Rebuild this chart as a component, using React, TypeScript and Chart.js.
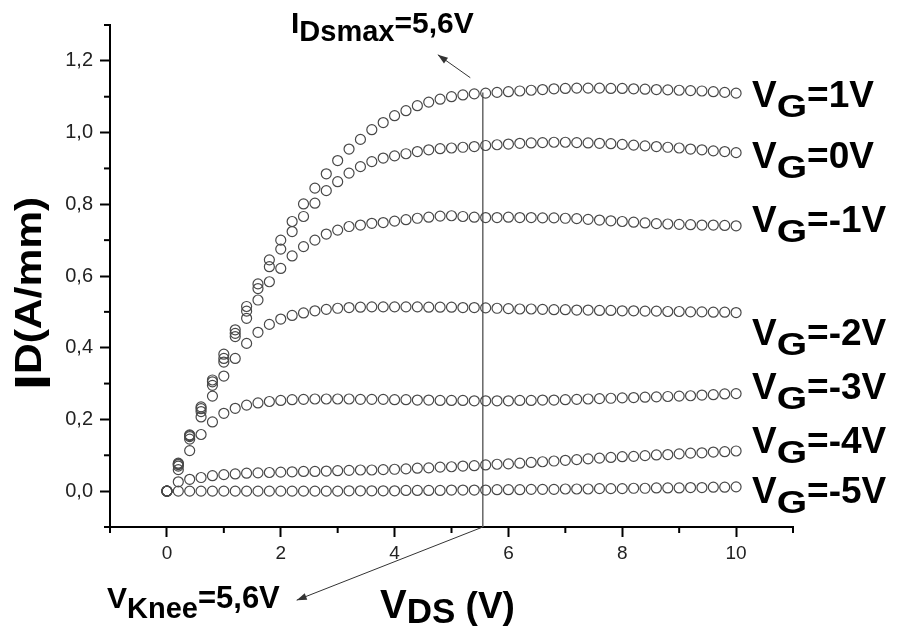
import React, { useEffect, useRef } from "react";
import { Chart, registerables } from "chart.js";

Chart.register(...registerables);

const FONT = "'Liberation Sans', Arial, Helvetica, sans-serif";

// Drain-source voltage (V)
const VDS = [0, 0.2, 0.4, 0.6, 0.8, 1, 1.2, 1.4, 1.6, 1.8, 2, 2.2, 2.4, 2.6, 2.8, 3, 3.2, 3.4, 3.6, 3.8, 4, 4.2, 4.4, 4.6, 4.8, 5, 5.2, 5.4, 5.6, 5.8, 6, 6.2, 6.4, 6.6, 6.8, 7, 7.2, 7.4, 7.6, 7.8, 8, 8.2, 8.4, 8.6, 8.8, 9, 9.2, 9.4, 9.6, 9.8, 10];

// Drain current (A/mm) for each gate voltage
const ID_VG_P1 = [0, 0.078, 0.157, 0.235, 0.31, 0.382, 0.45, 0.515, 0.578, 0.645, 0.70, 0.752, 0.801, 0.845, 0.885, 0.922, 0.954, 0.981, 1.008, 1.028, 1.047, 1.061, 1.075, 1.085, 1.093, 1.100, 1.105, 1.108, 1.110, 1.112, 1.114, 1.116, 1.118, 1.120, 1.122, 1.123, 1.124, 1.124, 1.124, 1.123, 1.123, 1.122, 1.121, 1.120, 1.119, 1.118, 1.117, 1.116, 1.114, 1.112, 1.110];
const ID_VG_0 = [0, 0.076, 0.155, 0.23, 0.305, 0.37, 0.44, 0.502, 0.565, 0.626, 0.675, 0.724, 0.766, 0.803, 0.838, 0.863, 0.887, 0.905, 0.919, 0.929, 0.935, 0.941, 0.947, 0.952, 0.955, 0.957, 0.959, 0.961, 0.964, 0.966, 0.968, 0.970, 0.971, 0.972, 0.973, 0.973, 0.972, 0.971, 0.970, 0.969, 0.967, 0.965, 0.963, 0.961, 0.959, 0.957, 0.954, 0.952, 0.949, 0.947, 0.944];
const ID_VG_M1 = [0, 0.074, 0.152, 0.222, 0.295, 0.36, 0.431, 0.482, 0.533, 0.584, 0.621, 0.656, 0.682, 0.70, 0.717, 0.728, 0.738, 0.742, 0.747, 0.749, 0.753, 0.757, 0.761, 0.764, 0.767, 0.768, 0.766, 0.764, 0.763, 0.763, 0.764, 0.763, 0.763, 0.762, 0.762, 0.761, 0.760, 0.758, 0.756, 0.754, 0.752, 0.750, 0.748, 0.746, 0.745, 0.744, 0.743, 0.742, 0.742, 0.741, 0.740];
const ID_VG_M2 = [0, 0.07, 0.145, 0.207, 0.265, 0.321, 0.37, 0.412, 0.443, 0.465, 0.48, 0.49, 0.497, 0.503, 0.507, 0.51, 0.512, 0.513, 0.514, 0.514, 0.514, 0.514, 0.514, 0.513, 0.513, 0.513, 0.512, 0.512, 0.511, 0.510, 0.509, 0.508, 0.508, 0.507, 0.506, 0.506, 0.505, 0.505, 0.504, 0.504, 0.503, 0.503, 0.502, 0.502, 0.501, 0.501, 0.500, 0.500, 0.499, 0.499, 0.498];
const ID_VG_M3 = [0, 0.06, 0.113, 0.158, 0.193, 0.217, 0.231, 0.24, 0.246, 0.25, 0.253, 0.255, 0.256, 0.257, 0.257, 0.257, 0.257, 0.256, 0.256, 0.256, 0.255, 0.255, 0.254, 0.254, 0.253, 0.253, 0.253, 0.252, 0.252, 0.252, 0.252, 0.253, 0.253, 0.254, 0.254, 0.255, 0.256, 0.257, 0.258, 0.259, 0.260, 0.261, 0.262, 0.263, 0.264, 0.265, 0.266, 0.268, 0.269, 0.271, 0.272];
const ID_VG_M4 = [0, 0.026, 0.033, 0.038, 0.043, 0.046, 0.048, 0.05, 0.051, 0.052, 0.053, 0.054, 0.055, 0.055, 0.056, 0.057, 0.058, 0.059, 0.059, 0.06, 0.061, 0.062, 0.064, 0.065, 0.067, 0.068, 0.07, 0.071, 0.073, 0.075, 0.076, 0.078, 0.080, 0.082, 0.084, 0.086, 0.088, 0.090, 0.092, 0.094, 0.096, 0.097, 0.099, 0.101, 0.102, 0.104, 0.106, 0.107, 0.109, 0.110, 0.112];
const ID_VG_M5 = [0, 0, 0, 0, 0, 0, 0, 0, 0, 0, 0, 0, 0, 0, 0, 0, 0.001, 0.001, 0.001, 0.001, 0.001, 0.002, 0.002, 0.002, 0.002, 0.003, 0.003, 0.003, 0.003, 0.004, 0.004, 0.004, 0.005, 0.005, 0.005, 0.006, 0.006, 0.006, 0.007, 0.007, 0.007, 0.008, 0.008, 0.009, 0.009, 0.009, 0.010, 0.010, 0.011, 0.011, 0.012];

const SERIES = [ID_VG_P1, ID_VG_0, ID_VG_M1, ID_VG_M2, ID_VG_M3, ID_VG_M4, ID_VG_M5];
const VG_VALUES = ["=1V", "=0V", "=-1V", "=-2V", "=-3V", "=-4V", "=-5V"];

const X_MAJOR = [0, 2, 4, 6, 8, 10];
const X_MINOR = [-1, 1, 3, 5, 7, 9, 11];
const Y_MAJOR = [0, 0.2, 0.4, 0.6, 0.8, 1.0, 1.2];
const Y_MINOR = [-0.1, 0.1, 0.3, 0.5, 0.7, 0.9, 1.1, 1.3];

const V_KNEE = 5.55;
const ID_KNEE_TOP = 1.112;
const KNEE_TEXT = "=5,6V";
const IDSMAX_TEXT = "=5,6V";

type Part = { t: string; size: number; dy?: number; sx?: number };

function drawRich(ctx: CanvasRenderingContext2D, x: number, y: number, parts: Part[], stretch = 1) {
  ctx.save();
  ctx.translate(x, y);
  ctx.scale(stretch, 1);
  let cx = 0;
  for (const p of parts) {
    const sx = p.sx || 1;
    ctx.font = `bold ${p.size}px ${FONT}`;
    ctx.save();
    ctx.translate(cx, p.dy || 0);
    ctx.scale(sx, 1);
    ctx.fillText(p.t, 0, 0);
    ctx.restore();
    cx += ctx.measureText(p.t).width * sx;
  }
  ctx.restore();
}

function arrow(ctx: CanvasRenderingContext2D, x1: number, y1: number, x2: number, y2: number) {
  ctx.beginPath();
  ctx.moveTo(x1, y1);
  ctx.lineTo(x2, y2);
  ctx.stroke();
  const a = Math.atan2(y2 - y1, x2 - x1);
  const L = 10, W = 3.5;
  ctx.beginPath();
  ctx.moveTo(x2, y2);
  ctx.lineTo(x2 - L * Math.cos(a) + W * Math.sin(a), y2 - L * Math.sin(a) - W * Math.cos(a));
  ctx.lineTo(x2 - L * Math.cos(a) - W * Math.sin(a), y2 - L * Math.sin(a) + W * Math.cos(a));
  ctx.closePath();
  ctx.fill();
}

const decoPlugin = {
  id: "deco",
  afterDraw(chart: any) {
    const { ctx, chartArea } = chart;
    const xs = chart.scales.x;
    const ys = chart.scales.y;
    ctx.save();
    // minor ticks
    ctx.strokeStyle = "#000";
    ctx.lineWidth = 2;
    X_MINOR.forEach((v) => {
      const px = xs.getPixelForValue(v);
      ctx.beginPath();
      ctx.moveTo(px, chartArea.bottom);
      ctx.lineTo(px, chartArea.bottom + 6);
      ctx.stroke();
    });
    Y_MINOR.forEach((v) => {
      const py = ys.getPixelForValue(v);
      ctx.beginPath();
      ctx.moveTo(chartArea.left, py);
      ctx.lineTo(chartArea.left - 6, py);
      ctx.stroke();
    });

    ctx.fillStyle = "#000";
    ctx.textBaseline = "alphabetic";
    ctx.textAlign = "left";

    // Curve labels
    const baselines = [107, 168, 232, 345, 399, 453, 503];
    VG_VALUES.forEach((t, i) => {
      drawRich(ctx, 752, baselines[i], [
        { t: "V", size: 37 },
        { t: "G", size: 32, dy: 10, sx: 1.22 },
        { t, size: 37 },
      ]);
    });

    // X title
    drawRich(ctx, 380, 618, [
      { t: "V", size: 40 },
      { t: "DS", size: 35, dy: 5 },
      { t: " (V)", size: 37 },
    ]);

    // Y title (rotated)
    ctx.save();
    ctx.translate(50, 390);
    ctx.rotate(-Math.PI / 2);
    drawRich(ctx, 0, 0, [
      { t: "I", size: 50 },
      { t: "D(A/mm)", size: 37, dy: -9 },
    ], 1.15);
    ctx.restore();

    // Annotations
    drawRich(ctx, 291, 33, [
      { t: "I", size: 30 },
      { t: "Dsmax", size: 29, dy: 8 },
      { t: IDSMAX_TEXT, size: 30 },
    ]);
    drawRich(ctx, 107, 608, [
      { t: "V", size: 30 },
      { t: "Knee", size: 29, dy: 10 },
      { t: KNEE_TEXT, size: 31 },
    ]);

    ctx.strokeStyle = "#333";
    ctx.fillStyle = "#333";
    ctx.lineWidth = 1;
    arrow(ctx, xs.getPixelForValue(5.33), ys.getPixelForValue(1.153), xs.getPixelForValue(4.76), ys.getPixelForValue(1.217));
    arrow(ctx, xs.getPixelForValue(V_KNEE), chartArea.bottom, xs.getPixelForValue(2.28), ys.getPixelForValue(-0.304));
    ctx.restore();
  },
};

export default function App() {
  const ref = useRef<HTMLCanvasElement>(null);
  useEffect(() => {
    const canvas = ref.current!;
    const datasets: any[] = SERIES.map((s, i) => ({
      type: "scatter",
      label: "VG" + VG_VALUES[i],
      data: VDS.map((x, j) => ({ x, y: s[j] })),
      showLine: false,
      pointStyle: "circle",
      pointRadius: 5,
      pointHoverRadius: 5,
      pointBorderWidth: 1.2,
      borderColor: "#484848",
      pointBorderColor: "#484848",
      backgroundColor: "rgba(0,0,0,0)",
      pointBackgroundColor: "rgba(0,0,0,0)",
    }));
    datasets.push({
      type: "line",
      label: "knee",
      data: [{ x: V_KNEE, y: -0.1 }, { x: V_KNEE, y: ID_KNEE_TOP }],
      showLine: true,
      borderColor: "#666",
      borderWidth: 1.5,
      pointRadius: 0,
      fill: false,
    });

    const chart = new Chart(canvas, {
      type: "scatter",
      data: { datasets },
      options: {
        animation: false,
        responsive: false,
        devicePixelRatio: 1,
        events: [],
        layout: { padding: { left: 0, top: 25, right: 108, bottom: 0 } },
        plugins: { legend: { display: false }, tooltip: { enabled: false }, title: { display: false } },
        scales: {
          x: {
            type: "linear",
            position: "bottom",
            min: -1,
            max: 11,
            afterBuildTicks: (s: any) => { s.ticks = X_MAJOR.map((v) => ({ value: v })); },
            afterFit: (s: any) => { s.height = 102; },
            grid: { display: true, drawOnChartArea: false, drawTicks: true, tickLength: 10, tickColor: "#000", tickWidth: 2 },
            border: { display: true, color: "#000", width: 2 },
            ticks: { font: { family: FONT, size: 19 }, color: "#222", padding: 5, maxRotation: 0, callback: (v: any) => String(v) },
          },
          y: {
            type: "linear",
            position: "left",
            min: -0.1,
            max: 1.3,
            afterBuildTicks: (s: any) => { s.ticks = Y_MAJOR.map((v) => ({ value: v })); },
            afterFit: (s: any) => { s.width = 110; },
            grid: { display: true, drawOnChartArea: false, drawTicks: true, tickLength: 10, tickColor: "#000", tickWidth: 2 },
            border: { display: true, color: "#000", width: 2 },
            ticks: { font: { family: FONT, size: 20 }, color: "#222", padding: 7, callback: (v: any) => Number(v).toFixed(1).replace(".", ",") },
          },
        },
      } as any,
      plugins: [decoPlugin],
    });
    return () => chart.destroy();
  }, []);

  return (
    <div style={{ position: "absolute", left: 0, top: 0, width: 901, height: 629, background: "#fff" }}>
      <canvas ref={ref} width={901} height={629} style={{ display: "block", width: 901, height: 629 }} />
    </div>
  );
}
